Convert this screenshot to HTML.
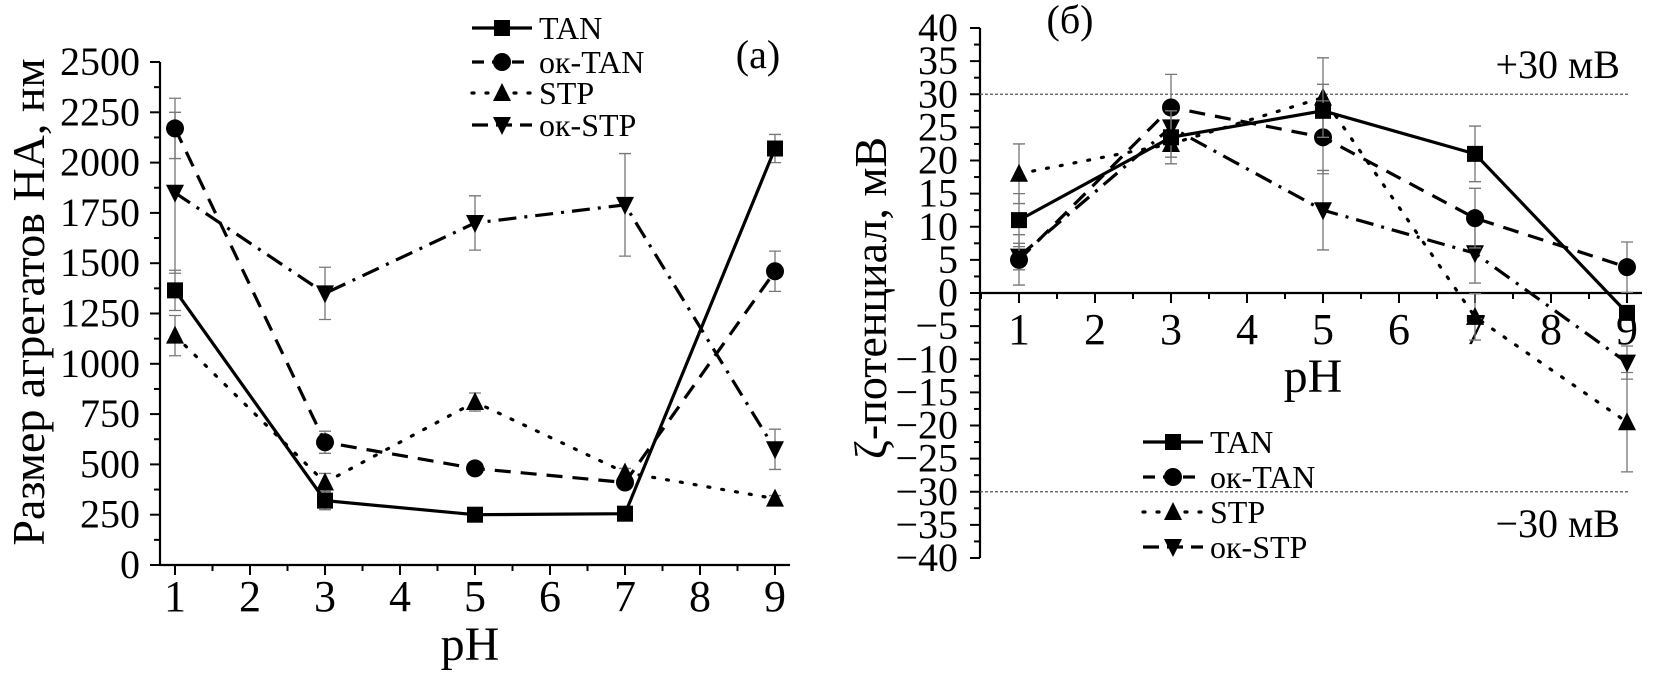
<!DOCTYPE html>
<html><head><meta charset="utf-8">
<style>
html,body{margin:0;padding:0;background:#fff;}
svg{display:block;font-family:"Liberation Serif","DejaVu Serif",serif;}
</style></head>
<body>
<svg id="chart" width="1655" height="678" viewBox="0 0 1655 678" xmlns="http://www.w3.org/2000/svg">
<g id="left"></g>
<g id="right"></g>
</svg>
<script>
// ---- shared data ----
const phValues = [1, 3, 5, 7, 9];
const seriesNames = ["TAN", "ок-TAN", "STP", "ок-STP"];
// panel (a): aggregate size, nm
const sizeTAN = [1365, 320, 250, 255, 2070];
const sizeOkTAN = [2170, 610, 480, 410, 1460];
const sizeSTP = [1140, 410, 810, 460, 330];
const sizeOkSTP = [1850, 1350, 1700, 1790, 575];
const sizeErrTAN = [100, 45, 15, 35, 70];
const sizeErrOkTAN = [150, 55, 30, 20, 100];
const sizeErrSTP = [100, 45, 45, 20, 15];
const sizeErrOkSTP = [400, 130, 135, 255, 100];
const sizeTicks = [0, 250, 500, 750, 1000, 1250, 1500, 1750, 2000, 2250, 2500];
const xTicks = [1, 2, 3, 4, 5, 6, 7, 8, 9];
// panel (б): zeta potential, mV
const zetaTAN = [11, 23.5, 27.5, 21, -3];
const zetaOkTAN = [5, 28, 23.5, 11.3, 3.9];
const zetaSTP = [18, 22.5, 29.5, -3.6, -19.5];
const zetaOkSTP = [5.5, 25, 12.5, 6, -10.5];
const zetaErrTAN = [4, 4, 4, 4.2, 1];
const zetaErrOkTAN = [3.8, 5, 5.5, 4.5, 3.8];
const zetaErrSTP = [4.5, 2, 6, 3.5, 7.5];
const zetaErrOkSTP = [2, 2, 6, 4.5, 2.5];
const zetaTicks = [40,35,30,25,20,15,10,5,0,-5,-10,-15,-20,-25,-30,-35,-40];

const NS = "http://www.w3.org/2000/svg";
function mk(parent, tag, attrs, text){
  const e = document.createElementNS(NS, tag);
  for (const k in attrs) e.setAttribute(k, attrs[k]);
  if (text !== undefined) e.textContent = text;
  parent.appendChild(e);
  return e;
}
const styles = [
  {dash: "none", marker: "square"},
  {dash: "16 10", marker: "circle"},
  {dash: "2 12", marker: "up"},
  {dash: "18 8 3 8", marker: "down"}
];
function marker(g, type, x, y, s){
  let m;
  if (type === "square") m = mk(g, "rect", {x: x-s/2, y: y-s/2, width: s, height: s, fill: "#000"});
  else if (type === "circle") m = mk(g, "circle", {cx: x, cy: y, r: s/2+1, fill: "#000"});
  else if (type === "up") m = mk(g, "polygon", {points: `${x},${y-s/2-2} ${x-s/2-1},${y+s/2} ${x+s/2+1},${y+s/2}`, fill: "#000"});
  else m = mk(g, "polygon", {points: `${x},${y+s/2+2} ${x-s/2-1},${y-s/2} ${x+s/2+1},${y-s/2}`, fill: "#000"});
  return m;
}
function drawSeries(g, xs, ys, errs, si, xf, yf, name){
  const sg = mk(g, "g", {});
  
  
  xs.forEach((v,i)=>{
    const x = xf(v), y1 = yf(ys[i]-errs[i]), y2 = yf(ys[i]+errs[i]);
    const eb = mk(sg, "path", {d:`M${x},${y1}V${y2}M${x-6},${y1}H${x+6}M${x-6},${y2}H${x+6}`, stroke:"#777", "stroke-width":1.3, fill:"none"});
    
    
  });
  const d = xs.map((v,i)=>(i?"L":"M")+xf(v)+","+yf(ys[i])).join("");
  const ln = mk(sg, "path", {d, stroke:"#000", "stroke-width":3.2, fill:"none", "stroke-dasharray": styles[si].dash, "stroke-linecap": si===2?"round":"butt"});
  
  
  xs.forEach((v,i)=>{
    const m = marker(sg, styles[si].marker, xf(v), yf(ys[i]), 16);
    
    
  });
}
function legend(g, x0, ys, fs){
  seriesNames.forEach((n,i)=>{
    const lg = mk(g, "g", {});
    
    
    mk(lg, "line", {x1:x0, y1:ys[i], x2:x0+60, y2:ys[i], stroke:"#000", "stroke-width":3.2, "stroke-dasharray": i===0?"none":(i===1?"12 8":(i===2?"2 12":"16 8")), "stroke-linecap": i===2?"round":"butt"});
    marker(lg, styles[i].marker, x0+30, ys[i], 16);
    const t = mk(lg, "text", {x:x0+67, y:ys[i]+11, "font-size":fs}, n);
    
    
  });
}

// ---- panel (a) ----
(function(){
  const g = document.getElementById("left");
  const X0 = 160, Y0 = 565;
  const xf = v => 175 + (v-1)*75;
  const yf = v => Y0 - v*(503/2500);
  const ax = mk(g, "path", {d:`M${X0},${yf(2500)}V${Y0}H790`, stroke:"#000", "stroke-width":2.2, fill:"none"});
  
  
  sizeTicks.forEach(v=>{
    mk(g, "line", {x1:X0-10, y1:yf(v), x2:X0, y2:yf(v), stroke:"#000", "stroke-width":2});
    if (v<2500) mk(g, "line", {x1:X0-6, y1:yf(v+125), x2:X0, y2:yf(v+125), stroke:"#000", "stroke-width":2});
    const t = mk(g, "text", {x:X0-20, y:yf(v)+13, "font-size":40, "text-anchor":"end"}, String(v));
    
    
  });
  xTicks.forEach(v=>{
    mk(g, "line", {x1:xf(v), y1:Y0, x2:xf(v), y2:Y0+10, stroke:"#000", "stroke-width":2});
    if (v<9) mk(g, "line", {x1:xf(v)+37.5, y1:Y0, x2:xf(v)+37.5, y2:Y0+6, stroke:"#000", "stroke-width":2});
    const t = mk(g, "text", {x:xf(v), y:611, "font-size":44, "text-anchor":"middle"}, String(v));
    
    
  });
  const xt = mk(g, "text", {x:470, y:660, "font-size":48, "text-anchor":"middle"}, "pH");
  
  
  const yt = mk(g, "text", {x:0, y:0, "font-size":46, "text-anchor":"middle", transform:"translate(44,302) rotate(-90)"}, "Размер агрегатов НА, нм");
  
  
  const pl = mk(g, "text", {x:758, y:68, "font-size":40, "text-anchor":"middle"}, "(a)");
  
  
  drawSeries(g, phValues, sizeSTP, sizeErrSTP, 2, xf, yf, "stp");
  drawSeries(g, phValues, sizeOkSTP, sizeErrOkSTP, 3, xf, yf, "ok-stp");
  drawSeries(g, phValues, sizeOkTAN, sizeErrOkTAN, 1, xf, yf, "ok-tan");
  drawSeries(g, phValues, sizeTAN, sizeErrTAN, 0, xf, yf, "tan");
  legend(g, 472, [28, 62, 93, 125], 32);
})();

// ---- panel (б) ----
(function(){
  const g = document.getElementById("right");
  const X0 = 980;
  const xf = v => 1019 + (v-1)*76;
  const yf = v => 293 - v*(265/40);
  const ax = mk(g, "path", {d:`M${X0},${yf(40)}V${yf(-40)}M${X0},${yf(0)}H1642`, stroke:"#000", "stroke-width":2.2, fill:"none"});
  
  
  [30,-30].forEach(v=>{
    const r = mk(g, "line", {x1:X0, y1:yf(v), x2:1630, y2:yf(v), stroke:"#555", "stroke-width":1.2, "stroke-dasharray":"3 2"});
    
    
  });
  zetaTicks.forEach(v=>{
    mk(g, "line", {x1:X0-10, y1:yf(v), x2:X0, y2:yf(v), stroke:"#000", "stroke-width":2});
    if (v>-40) mk(g, "line", {x1:X0-6, y1:yf(v-2.5), x2:X0, y2:yf(v-2.5), stroke:"#000", "stroke-width":2});
    const t = mk(g, "text", {x:X0-22, y:yf(v)+13, "font-size":40, "text-anchor":"end"}, v<0 ? "−"+(-v) : String(v));
    
    
  });
  xTicks.forEach(v=>{
    mk(g, "line", {x1:xf(v), y1:yf(0), x2:xf(v), y2:yf(0)+10, stroke:"#000", "stroke-width":2});
    mk(g, "line", {x1:xf(v)-38, y1:yf(0), x2:xf(v)-38, y2:yf(0)+6, stroke:"#000", "stroke-width":2});
    const t = mk(g, "text", {x:xf(v), y:344, "font-size":44, "text-anchor":"middle"}, String(v));
    
    
  });
  const xt = mk(g, "text", {x:1313, y:392, "font-size":48, "text-anchor":"middle"}, "pH");
  
  
  const yt = mk(g, "text", {x:0, y:0, "font-size":46, "text-anchor":"middle", transform:"translate(886,298) rotate(-90)"}, "ζ-потенциал, мВ");
  
  
  const pl = mk(g, "text", {x:1070, y:33, "font-size":40, "text-anchor":"middle"}, "(б)");
  
  
  const a1 = mk(g, "text", {x:1620, y:78, "font-size":40, "text-anchor":"end"}, "+30 мВ");
  
  
  const a2 = mk(g, "text", {x:1620, y:537, "font-size":40, "text-anchor":"end"}, "−30 мВ");
  
  
  drawSeries(g, phValues, zetaSTP, zetaErrSTP, 2, xf, yf, "stp");
  drawSeries(g, phValues, zetaOkSTP, zetaErrOkSTP, 3, xf, yf, "ok-stp");
  drawSeries(g, phValues, zetaOkTAN, zetaErrOkTAN, 1, xf, yf, "ok-tan");
  drawSeries(g, phValues, zetaTAN, zetaErrTAN, 0, xf, yf, "tan");
  legend(g, 1143, [442, 477, 512, 547], 32);
})();
</script>
</body></html>
